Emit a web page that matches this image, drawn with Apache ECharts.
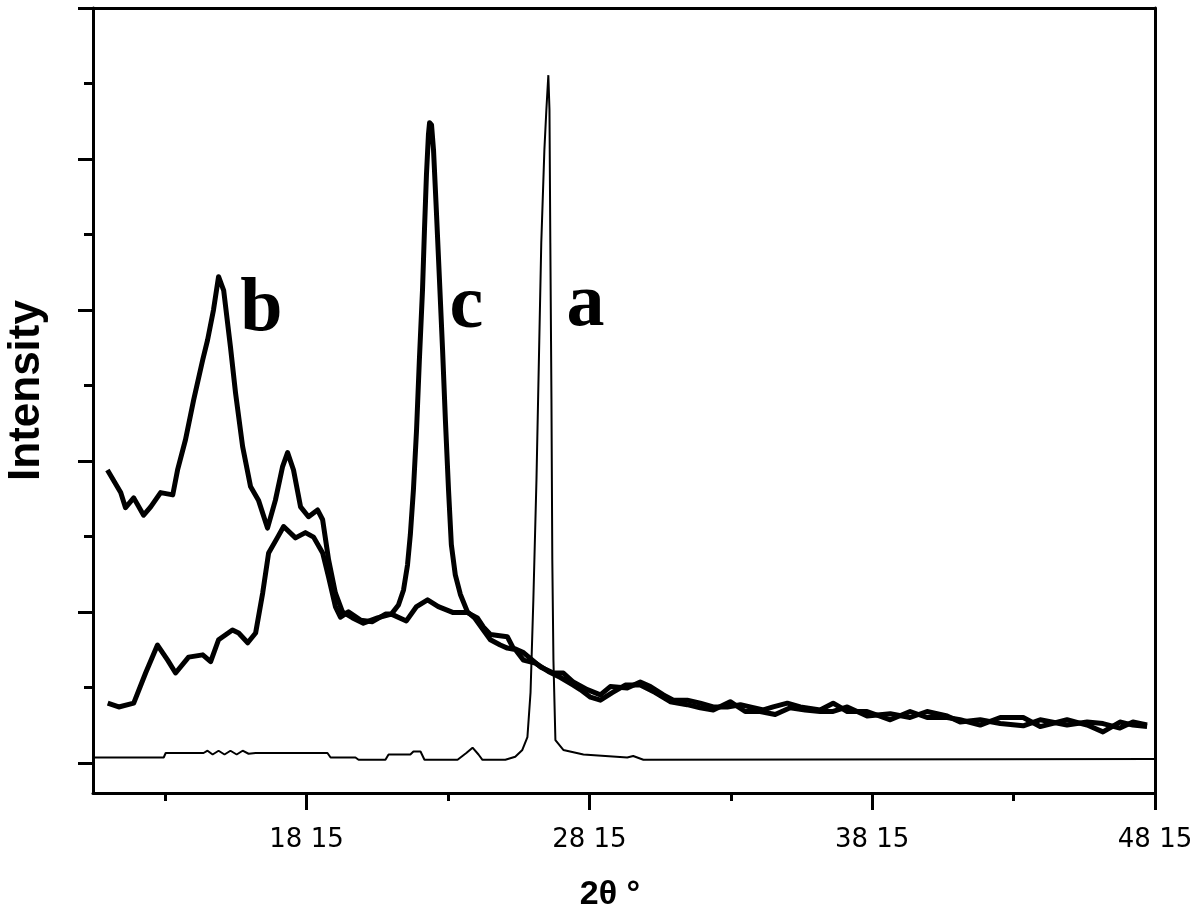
<!DOCTYPE html>
<html><head><meta charset="utf-8">
<script src="https://cdn.jsdelivr.net/npm/echarts@6/dist/echarts.min.js"></script>
<style>html,body{margin:0;padding:0;background:#fff}#c{width:1200px;height:916px}</style>
</head><body><div id="c"></div>
<script>
const xTickValues = [18.15, 28.15, 38.15, 48.15];
const xTickLabels = ['18 15', '28 15', '38 15', '48 15'];
const xMinorTicks = [13.15, 23.15, 33.15, 43.15];
const yMajorTicks = [0, 2, 4, 6, 8, 10];
const yMinorTicks = [1, 3, 5, 7, 9];

const curveA = [
[10.62,0.07],[13.10,0.07],[13.17,0.13],[14.51,0.13],[14.65,0.16],[14.83,0.11],[15.04,0.16],[15.25,0.11],[15.46,0.16],[15.68,0.11],[15.89,0.16],[16.10,0.12],[16.35,0.13],[18.89,0.13],[19.00,0.07],[19.88,0.07],[19.99,0.04],[20.94,0.04],[21.05,0.11],[21.82,0.11],[21.93,0.15],[22.18,0.15],[22.32,0.04],[23.49,0.04],[23.80,0.13],[24.02,0.20],[24.23,0.11],[24.37,0.04],[25.18,0.04],[25.53,0.08],[25.78,0.17],[25.96,0.34],[26.07,0.93],[26.17,2.16],[26.28,3.75],[26.38,5.60],[26.45,6.89],[26.56,8.12],[26.63,8.65],[26.70,9.11],[26.74,8.65],[26.77,6.89],[26.81,4.81],[26.84,2.69],[26.88,1.36],[26.95,0.30],[27.23,0.17],[27.94,0.11],[29.49,0.07],[29.70,0.09],[30.06,0.04],[48.15,0.05]
];

const curveB = [
[11.11,3.88],[11.58,3.58],[11.75,3.38],[12.04,3.51],[12.39,3.28],[12.64,3.39],[12.99,3.58],[13.42,3.55],[13.59,3.88],[13.87,4.28],[14.16,4.81],[14.48,5.34],[14.65,5.60],[14.86,6.00],[15.04,6.44],[15.22,6.26],[15.46,5.51],[15.64,4.90],[15.89,4.19],[16.17,3.66],[16.45,3.48],[16.77,3.11],[17.05,3.48],[17.30,3.92],[17.48,4.11],[17.69,3.88],[17.94,3.39],[18.22,3.26],[18.54,3.35],[18.72,3.22],[18.93,2.69],[19.17,2.25],[19.42,2.00],[19.78,1.92],[20.16,1.85],[20.66,1.92],[21.15,1.97],[21.68,1.88],[22.04,2.07],[22.43,2.16],[22.81,2.07],[23.34,1.99],[23.84,1.99],[24.19,1.92],[24.40,1.80],[24.65,1.70],[25.25,1.67],[25.46,1.52],[25.82,1.46],[26.42,1.27],[26.88,1.19],[27.23,1.19],[27.58,1.07],[28.08,0.97],[28.54,0.90],[28.89,1.01],[29.49,0.99],[29.95,1.07],[30.31,1.01],[30.77,0.90],[31.12,0.83],[31.61,0.83],[32.07,0.79],[32.53,0.74],[33.03,0.74],[33.49,0.77],[33.95,0.73],[34.30,0.70],[34.65,0.74],[35.15,0.79],[35.61,0.74],[36.31,0.70],[36.77,0.79],[37.27,0.68],[37.97,0.68],[38.79,0.57],[39.49,0.68],[40.09,0.60],[40.80,0.60],[41.26,0.57],[41.97,0.50],[42.68,0.60],[43.49,0.60],[44.09,0.48],[45.04,0.57],[45.75,0.50],[46.31,0.41],[46.91,0.54],[47.37,0.50],[47.87,0.48]
];

const curveC = [
[11.12,0.79],[11.51,0.74],[12.04,0.79],[12.46,1.19],[12.88,1.56],[13.24,1.36],[13.52,1.19],[13.98,1.40],[14.48,1.43],[14.76,1.34],[15.04,1.63],[15.53,1.76],[15.75,1.72],[16.07,1.59],[16.35,1.72],[16.60,2.25],[16.81,2.78],[17.13,2.99],[17.34,3.13],[17.76,2.98],[18.11,3.05],[18.40,2.99],[18.72,2.78],[18.93,2.46],[19.17,2.07],[19.35,1.93],[19.63,2.00],[20.06,1.89],[20.48,1.87],[20.94,1.97],[21.15,1.97],[21.40,2.09],[21.58,2.29],[21.72,2.62],[21.82,3.02],[21.93,3.62],[22.04,4.41],[22.14,5.34],[22.25,6.26],[22.32,7.06],[22.39,7.79],[22.46,8.32],[22.50,8.48],[22.57,8.45],[22.64,8.12],[22.74,7.32],[22.85,6.40],[22.96,5.47],[23.06,4.54],[23.17,3.62],[23.27,2.89],[23.41,2.49],[23.59,2.23],[23.84,2.00],[24.09,1.92],[24.40,1.76],[24.65,1.63],[25.00,1.56],[25.25,1.52],[25.53,1.50],[25.82,1.36],[26.24,1.32],[26.70,1.21],[27.13,1.13],[27.58,1.03],[27.83,0.97],[28.19,0.87],[28.54,0.83],[28.96,0.93],[29.42,1.03],[29.95,1.03],[30.48,0.93],[31.01,0.81],[31.61,0.77],[32.07,0.73],[32.53,0.70],[33.13,0.81],[33.66,0.68],[34.19,0.68],[34.72,0.64],[35.25,0.73],[35.78,0.70],[36.31,0.68],[36.77,0.68],[37.27,0.74],[37.97,0.62],[38.79,0.65],[39.49,0.60],[40.09,0.68],[40.80,0.62],[41.26,0.54],[41.97,0.57],[42.68,0.52],[43.49,0.49],[44.09,0.57],[45.04,0.50],[45.75,0.54],[46.31,0.52],[46.91,0.46],[47.37,0.54],[47.87,0.50]
];

const labelNames = ['b', 'c', 'a'];
const labelX = [16.55, 23.80, 28.01];
const labelY = [6.00, 6.04, 6.06];

const xMin = 10.6, xMax = 48.15, yMin = -0.4, yMax = 10;
const black = '#000';

function findLabel(v) {
  for (let i = 0; i < xTickValues.length; i++) {
    if (Math.abs(xTickValues[i] - v) < 1e-6) return xTickLabels[i];
  }
  return '';
}

const chart = echarts.init(document.getElementById('c'), null, {renderer: 'canvas'});
chart.setOption({
  animation: false,
  backgroundColor: '#fff',
  grid: {left: 93, right: 45, top: 8, bottom: 123, containLabel: false, outerBoundsMode: 'none'},
  xAxis: [
    {
      type: 'value', min: xMin, max: xMax, position: 'bottom',
      axisLine: {onZero: false, lineStyle: {color: black, width: 3}},
      axisTick: {customValues: xTickValues, length: 17, lineStyle: {color: black, width: 3}},
      axisLabel: {customValues: xTickValues, formatter: findLabel, margin: 34, color: black,
        fontFamily: 'DejaVu Sans', fontSize: 26},
      splitLine: {show: false},
      name: '2θ °', nameLocation: 'middle', nameGap: 85,
      nameTextStyle: {color: black, fontFamily: 'Liberation Sans', fontWeight: 'bold', fontSize: 34, padding: [0, 28, 0, 0]}
    },
    {
      type: 'value', min: xMin, max: xMax, position: 'bottom',
      axisLine: {show: false, onZero: false},
      axisTick: {customValues: xMinorTicks, length: 8, lineStyle: {color: black, width: 3}},
      axisLabel: {show: false}, splitLine: {show: false}
    },
    {
      type: 'value', min: xMin, max: xMax, position: 'top',
      axisLine: {onZero: false, lineStyle: {color: black, width: 3}},
      axisTick: {show: false}, axisLabel: {show: false}, splitLine: {show: false}
    }
  ],
  yAxis: [
    {
      type: 'value', min: yMin, max: yMax, position: 'left',
      axisLine: {onZero: false, lineStyle: {color: black, width: 3}},
      axisTick: {customValues: yMajorTicks, length: 15, lineStyle: {color: black, width: 3}},
      axisLabel: {show: false}, splitLine: {show: false},
      name: 'Intensity', nameLocation: 'middle', nameGap: 44, nameRotate: 90,
      nameTextStyle: {color: black, fontFamily: 'Liberation Sans', fontWeight: 'bold', fontSize: 44, padding: [0, 0, 0, 20]}
    },
    {
      type: 'value', min: yMin, max: yMax, position: 'left',
      axisLine: {show: false, onZero: false},
      axisTick: {customValues: yMinorTicks, length: 9, lineStyle: {color: black, width: 3}},
      axisLabel: {show: false}, splitLine: {show: false}
    },
    {
      type: 'value', min: yMin, max: yMax, position: 'right',
      axisLine: {onZero: false, lineStyle: {color: black, width: 3}},
      axisTick: {show: false}, axisLabel: {show: false}, splitLine: {show: false}
    }
  ],
  series: [
    {type: 'line', name: 'a', data: curveA, showSymbol: false, symbol: 'none',
     lineStyle: {color: black, width: 2}, itemStyle: {color: black}, silent: true},
    {type: 'line', name: 'b', data: curveB, showSymbol: false, symbol: 'none',
     lineStyle: {color: black, width: 5, join: 'round'}, itemStyle: {color: black}, silent: true},
    {type: 'line', name: 'c', data: curveC, showSymbol: false, symbol: 'none',
     lineStyle: {color: black, width: 5, join: 'round'}, itemStyle: {color: black}, silent: true},
    {type: 'scatter', data: labelX.map((x, i) => [x, labelY[i], labelNames[i]]),
     symbolSize: 0, itemStyle: {color: black}, silent: true,
     label: {show: true, position: 'inside', formatter: p => p.data[2], color: '#000', opacity: 1,
       textBorderWidth: 0, fontFamily: 'Liberation Serif', fontWeight: 'bold', fontSize: 76}}
  ]
});
</script>
</body></html>
